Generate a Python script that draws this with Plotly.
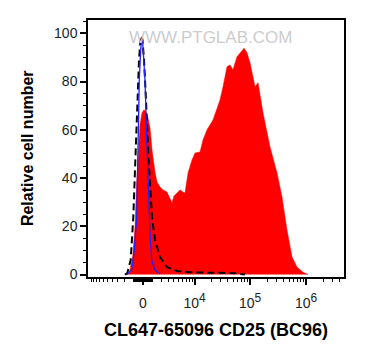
import numpy as np
import plotly.graph_objects as go

# ---- data (x in display "decade" units of the biexponential axis, y = relative cell number) ----
sample_x = [2.776, 2.835, 2.896, 2.937, 2.967, 2.996, 3.026, 3.062, 3.098, 3.134, 3.169, 3.205,
            3.241, 3.294, 3.330, 3.384, 3.437, 3.509, 3.562, 3.598, 3.634, 3.687, 3.741, 3.794,
            3.830, 3.884, 3.955, 4.009, 4.098, 4.151, 4.223, 4.330, 4.455, 4.509, 4.580, 4.634,
            4.687, 4.759, 4.812, 4.884, 4.937, 4.991, 5.080, 5.134, 5.223, 5.348, 5.473, 5.562,
            5.651, 5.741, 5.830, 5.937, 6.026]
sample_y = [0.0, 0.6, 7.3, 19.7, 38.0, 51.7, 62.0, 67.0, 68.3, 67.4, 64.9, 60.8,
            51.7, 42.5, 38.4, 36.3, 35.1, 34.2, 31.7, 29.7, 32.6, 33.8, 35.1, 34.2,
            33.8, 42.1, 47.5, 50.4, 50.8, 55.8, 60.0, 64.1, 72.4, 77.8, 86.1, 86.9,
            84.9, 90.3, 91.9, 93.8, 91.9, 87.8, 77.8, 79.5, 67.0, 52.9, 42.1, 32.2,
            18.5, 7.3, 3.1, 1.0, 0.0]

unstained_x = [2.794, 2.878, 2.925, 2.968, 2.991, 3.014, 3.039, 3.057, 3.075, 3.098, 3.116,
               3.146, 3.178, 3.205, 3.235, 3.294, 3.384]
unstained_y = [0.0, 1.9, 10.2, 23.9, 52.0, 80.7, 93.2, 97.7, 96.0, 87.8, 80.7,
               57.0, 30.9, 17.2, 6.0, 1.9, 0.2]

isotype_x = [2.759, 2.800, 2.860, 2.907, 2.950, 2.982, 3.009, 3.035, 3.053, 3.071, 3.098,
             3.134, 3.169, 3.241, 3.294, 3.384, 3.509, 3.687, 3.919, 4.187, 4.455, 4.723, 4.900]
isotype_y = [0.0, 0.6, 6.0, 23.9, 51.7, 72.4, 89.0, 97.3, 99.0, 97.3, 89.0,
             72.4, 51.7, 23.9, 14.3, 7.3, 3.1, 1.5, 1.0, 0.8, 0.8, 0.6, 0.0]

x_major_values = [0, 1e4, 1e5, 1e6]
x_major_labels = ["0",
                  "10<sup><span style='font-size:12px'>4</span></sup>",
                  "10<sup><span style='font-size:12px'>5</span></sup>",
                  "10<sup><span style='font-size:12px'>6</span></sup>"]
y_major = [0, 20, 40, 60, 80, 100]

# ---- axis transform (biexponential-like) used for tick placement ----
U0 = 3.08
C = 1220.0


def biex(v):
    return U0 + np.arcsinh(np.asarray(v, dtype=float) / (2 * C)) / np.log(10)


X_RANGE = [2.098, 6.669]
major_pos = [float(biex(v)) for v in x_major_values]
minor_pos = []
for n in range(2, 7):
    for k in range(1, 10):
        for s in (1, -1):
            v = s * k * 10 ** n
            if v in x_major_values:
                continue
            p = float(biex(v))
            if X_RANGE[0] < p < X_RANGE[1]:
                minor_pos.append(p)

fig = go.Figure()
fig.add_trace(go.Scatter(x=sample_x, y=sample_y, mode="lines", fill="tozeroy",
                         line=dict(color="#ff0000", width=0.5), fillcolor="#ff0000",
                         showlegend=False, hoverinfo="skip"))
fig.add_trace(go.Scatter(x=isotype_x, y=isotype_y, mode="lines",
                         line=dict(color="#000000", width=2, dash="7px,4px"),
                         showlegend=False, hoverinfo="skip"))
fig.add_trace(go.Scatter(x=unstained_x, y=unstained_y, mode="lines",
                         line=dict(color="#2020ff", width=1.3),
                         showlegend=False, hoverinfo="skip"))

tick_font = dict(family="Liberation Sans, Arial", size=14, color="#222222")

fig.update_xaxes(range=X_RANGE, showline=True, linecolor="black", linewidth=1.5, mirror=True,
                 showgrid=False, zeroline=False,
                 tickmode="array", tickvals=major_pos, ticktext=x_major_labels,
                 ticks="outside", ticklen=6, tickwidth=1.5, tickcolor="black",
                 tickfont=tick_font, ticklabelstandoff=6,
                 minor=dict(tickmode="array", tickvals=minor_pos, ticks="outside",
                            ticklen=3, tickwidth=1, tickcolor="black", showgrid=False))
fig.update_yaxes(range=[-1.0, 105.5], showline=True, linecolor="black", linewidth=1.5, mirror=True,
                 showgrid=False, zeroline=False,
                 tickmode="array", tickvals=y_major, ticktext=[str(v) for v in y_major],
                 ticks="outside", ticklen=6, tickwidth=1.5, tickcolor="black",
                 tickfont=tick_font,
                 minor=dict(tickmode="linear", dtick=5, tick0=0, ticks="outside",
                            ticklen=3, tickwidth=1, tickcolor="black", showgrid=False))

fig.update_layout(
    width=365, height=360,
    margin=dict(l=88, r=21, t=20, b=83),
    paper_bgcolor="white", plot_bgcolor="white",
    annotations=[
        dict(text="CL647-65096 CD25 (BC96)", xref="paper", yref="paper", x=0.5, y=-0.206,
             xanchor="center", yanchor="middle", showarrow=False,
             font=dict(family="Liberation Sans, Arial", size=18, color="black", weight="bold")),
        dict(text="Relative cell number", xref="paper", yref="paper", x=-0.234, y=0.502,
             xanchor="center", yanchor="middle", showarrow=False, textangle=-90,
             font=dict(family="Liberation Sans, Arial", size=16, color="black", weight="bold")),
        dict(text="WWW.PTGLAB.COM", xref="paper", yref="paper", x=0.477, y=0.93,
             xanchor="center", yanchor="middle", showarrow=False,
             font=dict(family="Liberation Sans Narrow, Liberation Sans, Arial", size=17,
                       color="#cccccc")),
    ],
)

fig.write_html("out.html", config={"displayModeBar": False},
               post_script="document.body.style.margin='0px';")
